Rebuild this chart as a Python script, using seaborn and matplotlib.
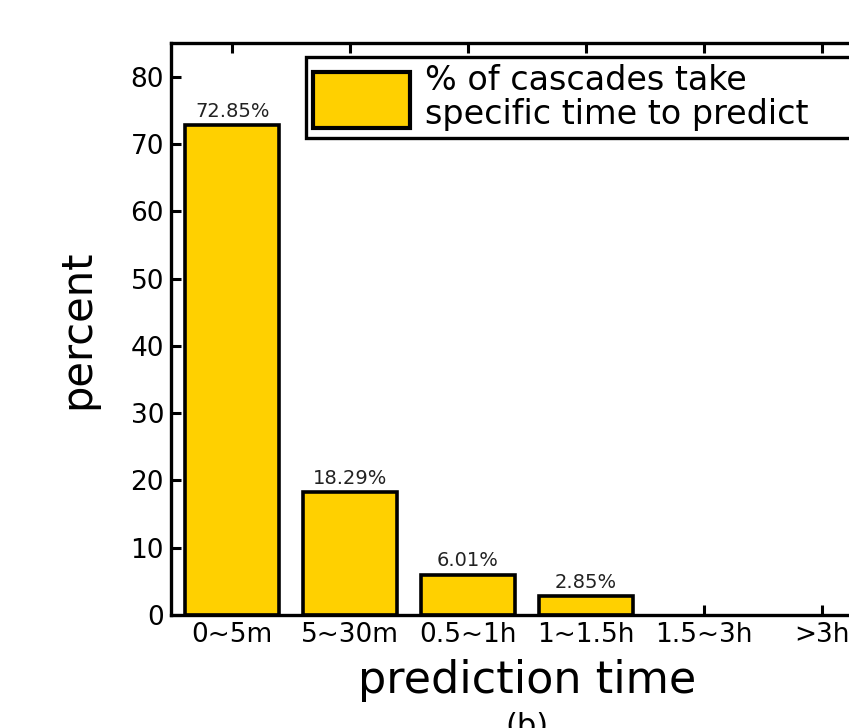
import matplotlib
matplotlib.use("Agg")
import matplotlib.pyplot as plt
from matplotlib.patches import Patch
import seaborn as sns
import pandas as pd

# Share of cascades by the time needed to predict them
categories = ["0~5m", "5~30m", "0.5~1h", "1~1.5h", "1.5~3h", ">3h"]
percent = [72.85, 18.29, 6.01, 2.85, 0.0, 0.0]
y_ticks = [0, 10, 20, 30, 40, 50, 60, 70, 80]
legend_label = "% of cascades take\nspecific time to predict"

bar_color = "#FFD000"

sns.set_style("white")
plt.rcParams["font.family"] = ["DejaVu Sans"]
plt.rcParams["text.color"] = "black"
plt.rcParams["axes.labelcolor"] = "black"

df = pd.DataFrame({"time": categories, "percent": percent})

fig = plt.figure(figsize=(8.49, 7.28), dpi=100)
ax = fig.add_axes([171 / 849, 113 / 728, 712 / 849, 572 / 728])

sns.barplot(data=df, x="time", y="percent", order=categories,
            color=bar_color, saturation=1, edgecolor="black",
            linewidth=2.6, width=0.8, ax=ax)

# empty categories get no outline
for patch, v in zip(ax.containers[0], percent):
    if v <= 0:
        patch.set_linewidth(0)

ax.set_xlim(-0.52, 5.52)
ax.set_ylim(0, 85)
ax.set_yticks(y_ticks)

# value labels above the bars
labels = [f"{v:.2f}%" if v > 0 else "" for v in percent]
ax.bar_label(ax.containers[0], labels=labels, padding=3,
             fontsize=14, color="#222222")

for side in ["left", "right", "top", "bottom"]:
    ax.spines[side].set_visible(True)
    ax.spines[side].set_color("black")
    ax.spines[side].set_linewidth(2.4)

ax.tick_params(axis="both", direction="in", width=2.2, length=7,
               color="black", labelsize=19, labelcolor="black")
ax.tick_params(axis="x", top=True, bottom=True, pad=5)
ax.tick_params(axis="y", left=True, right=True, pad=5)

ax.set_xlabel("prediction time", fontsize=32, labelpad=8)
ax.set_ylabel("percent", fontsize=30, labelpad=23)

handle = Patch(facecolor=bar_color, edgecolor="black", linewidth=3)
leg = ax.legend([handle], [legend_label], loc="upper left",
                bbox_to_anchor=(0.19, 0.0, 0.79, 0.9755), mode="expand",
                borderaxespad=0, fontsize=24, handlelength=2.9,
                handleheight=2.2, handletextpad=0.45, borderpad=0.2,
                frameon=True, fancybox=False, framealpha=1)
leg.get_frame().set_edgecolor("black")
leg.get_frame().set_linewidth(2.4)
for t in leg.get_texts():
    t.set_linespacing(1.05)

fig.text(527 / 849, 1 - 712 / 728, "(b)", ha="center", va="top", fontsize=22)

fig.savefig("out.png", dpi=100)
